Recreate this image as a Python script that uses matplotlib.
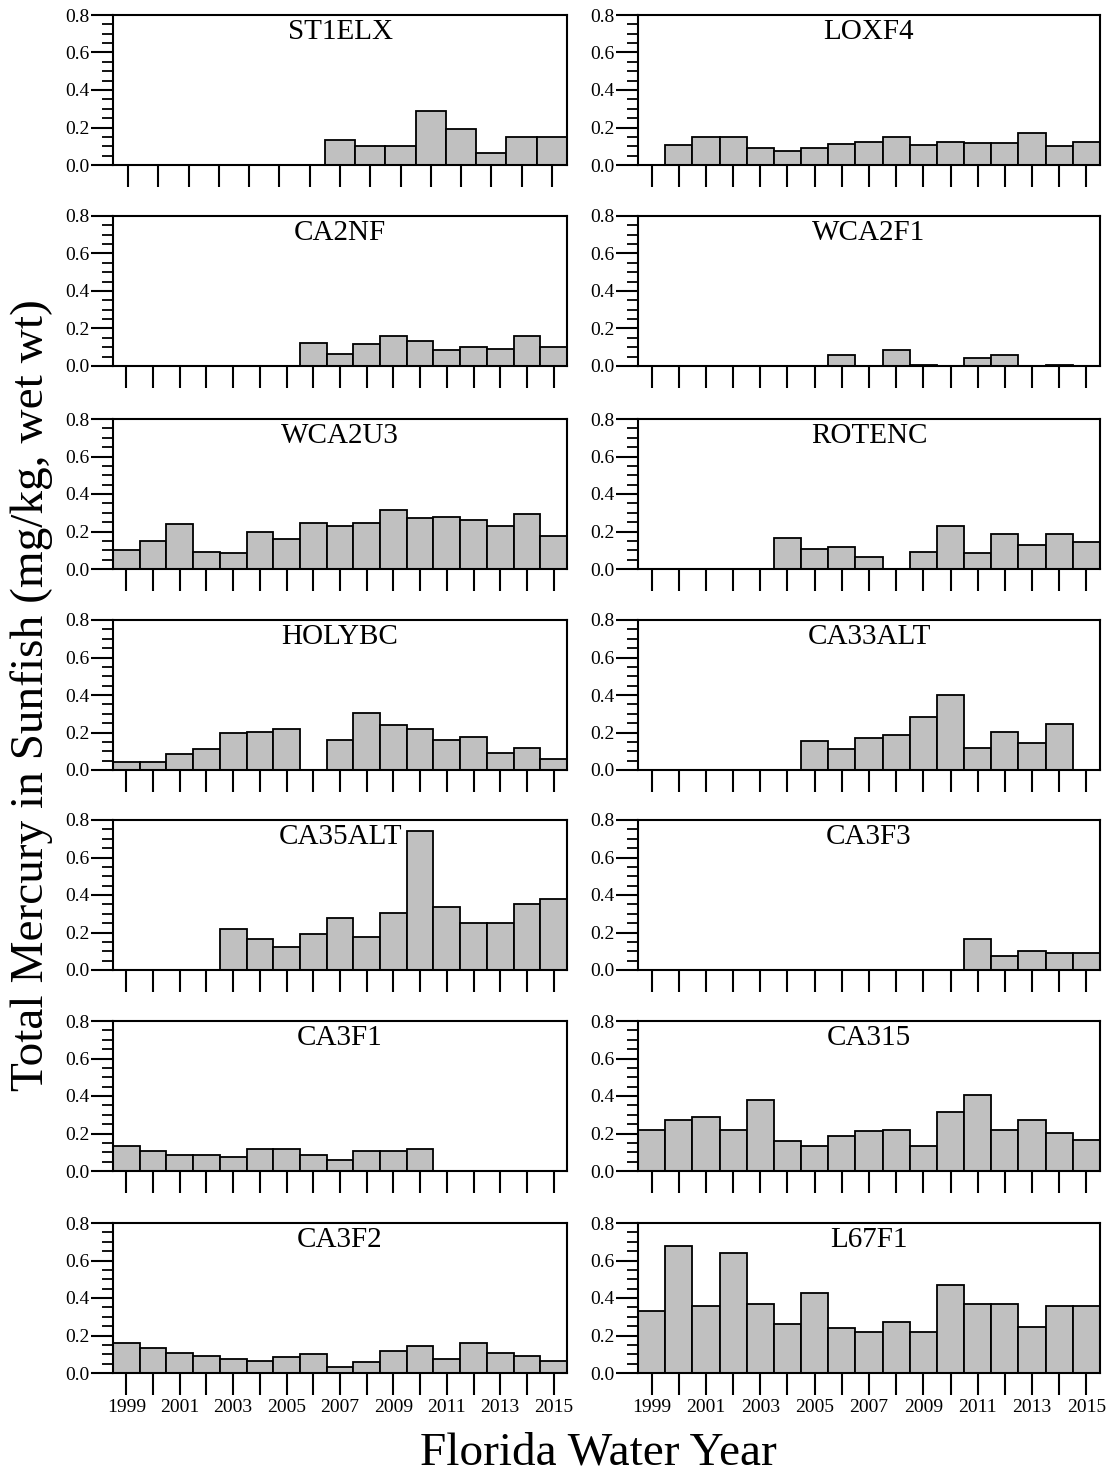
import numpy as np
import matplotlib.pyplot as plt
from matplotlib.ticker import MultipleLocator

plt.rcParams['font.family'] = ['Liberation Serif', 'DejaVu Serif']

nan = np.nan

# water years on the x axis (ST1ELX panel only covers 2001-2015)
years = [1999, 2000, 2001, 2002, 2003, 2004, 2005, 2006, 2007, 2008,
         2009, 2010, 2011, 2012, 2013, 2014, 2015]
st1elx_years = [2001, 2002, 2003, 2004, 2005, 2006, 2007, 2008,
                2009, 2010, 2011, 2012, 2013, 2014, 2015]

# mean THg in sunfish, mg/kg wet wt (nan = no data)
st1elx = [nan, nan, nan, nan, nan, nan, nan,
          0.133, 0.101, 0.101, 0.288, 0.194, 0.066, 0.151, 0.151]
loxf4 = [nan, 0.108, 0.151, 0.151, 0.091, 0.073, 0.091, 0.114, 0.124,
         0.151, 0.108, 0.124, 0.116, 0.116, 0.169, 0.101, 0.124]
ca2nf = [nan, nan, nan, nan, nan, nan, nan, 0.124, 0.065, 0.119,
         0.159, 0.133, 0.083, 0.101, 0.092, 0.159, 0.101]
wca2f1 = [nan, nan, nan, nan, nan, nan, nan, 0.057, nan, 0.083,
          0.007, nan, 0.041, 0.058, nan, 0.007, nan]
wca2u3 = [0.102, 0.152, 0.239, 0.093, 0.084, 0.195, 0.161, 0.246, 0.229,
          0.246, 0.314, 0.271, 0.280, 0.264, 0.229, 0.291, 0.177]
rotenc = [nan, nan, nan, nan, nan, 0.168, 0.107, 0.118, 0.066, nan,
          0.093, 0.230, 0.084, 0.188, 0.127, 0.188, 0.145]
holybc = [0.041, 0.041, 0.084, 0.110, 0.196, 0.204, 0.220, nan, 0.160,
          0.306, 0.238, 0.220, 0.160, 0.178, 0.092, 0.117, 0.059]
ca33alt = [nan, nan, nan, nan, nan, nan, 0.153, 0.110, 0.169, 0.187,
           0.281, 0.400, 0.117, 0.203, 0.144, 0.247, nan]
ca35alt = [nan, nan, nan, nan, 0.218, 0.167, 0.125, 0.193, 0.278, 0.176,
           0.304, 0.742, 0.336, 0.251, 0.251, 0.353, 0.378]
ca3f3 = [nan, nan, nan, nan, nan, nan, nan, nan, nan, nan,
         nan, nan, 0.167, 0.074, 0.100, 0.091, 0.091]
ca3f1 = [0.135, 0.108, 0.083, 0.083, 0.076, 0.117, 0.117, 0.083, 0.058,
         0.108, 0.108, 0.117, nan, nan, nan, nan, nan]
ca315 = [0.219, 0.271, 0.288, 0.219, 0.381, 0.159, 0.135, 0.186, 0.211,
         0.219, 0.135, 0.313, 0.405, 0.219, 0.271, 0.202, 0.168]
ca3f2 = [0.160, 0.135, 0.108, 0.092, 0.075, 0.066, 0.084, 0.101, 0.032,
         0.057, 0.117, 0.144, 0.075, 0.160, 0.108, 0.092, 0.066]
l67f1 = [0.332, 0.675, 0.359, 0.641, 0.366, 0.264, 0.427, 0.239, 0.221,
         0.273, 0.221, 0.470, 0.366, 0.366, 0.248, 0.357, 0.357]

sites = ["ST1ELX", "LOXF4", "CA2NF", "WCA2F1", "WCA2U3", "ROTENC",
         "HOLYBC", "CA33ALT", "CA35ALT", "CA3F3", "CA3F1", "CA315",
         "CA3F2", "L67F1"]
values = [st1elx, loxf4, ca2nf, wca2f1, wca2u3, rotenc, holybc, ca33alt,
          ca35alt, ca3f3, ca3f1, ca315, ca3f2, l67f1]
xyears = [st1elx_years] + [years] * 13

W, H = 1109, 1475
fig = plt.figure(figsize=(W / 100, H / 100), dpi=100)

col_left = [113, 638]
col_width = [454, 462]
row_top = [15, 216, 419, 620, 820, 1021, 1223]
ax_h = 150

for i, (site, vals, xs) in enumerate(zip(sites, values, xyears)):
    r, c = divmod(i, 2)
    ax = fig.add_axes([col_left[c] / W, 1 - (row_top[r] + ax_h) / H,
                       col_width[c] / W, ax_h / H])
    ax.bar(xs, vals, width=1.0, color='#c0c0c0', edgecolor='black',
           linewidth=1.3, align='center')
    ax.set_xlim(xs[0] - 0.5, xs[-1] + 0.5)
    ax.set_ylim(0, 0.8)
    ax.yaxis.set_major_locator(MultipleLocator(0.2))
    ax.yaxis.set_minor_locator(MultipleLocator(0.05))
    ax.set_yticklabels([f"{v:.1f}" for v in ax.get_yticks()])
    ax.set_xticks(xs)
    if r == 6:
        ax.set_xticklabels([str(y) if y % 2 == 1 else '' for y in xs])
    else:
        ax.set_xticklabels([])
    ax.tick_params(axis='x', direction='out', length=16, width=1.5,
                   labelsize=14, pad=3, top=False)
    ax.tick_params(axis='y', which='major', direction='out', length=16,
                   width=1.5, labelsize=14, pad=1, right=False)
    ax.tick_params(axis='y', which='minor', direction='out', length=8,
                   width=1.3, right=False)
    for sp in ax.spines.values():
        sp.set_linewidth(1.5)
    ax.text(0.5, 0.975, site, transform=ax.transAxes, ha='center',
            va='top', fontsize=21)

fig.text(32 / W, 1 - 695 / H, "Total Mercury in Sunfish (mg/kg, wet wt)",
         rotation=90, ha='center', va='center', fontsize=34)
fig.text(598 / W, 1 - 1453 / H, "Florida Water Year",
         ha='center', va='center', fontsize=34)

fig.savefig("out.png", dpi=100)
